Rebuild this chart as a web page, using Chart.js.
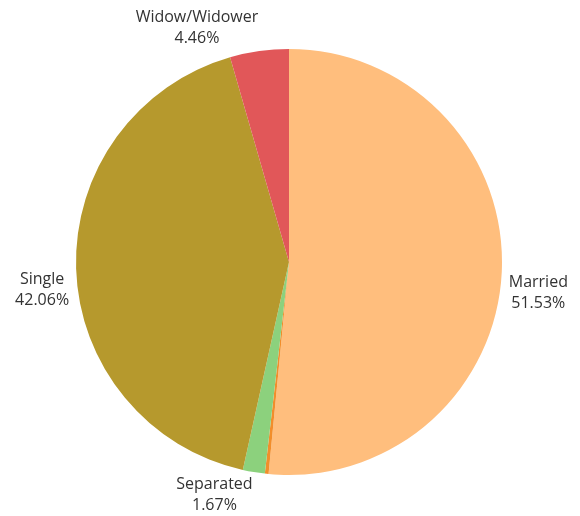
<!DOCTYPE html>
<html>
<head>
<meta charset="utf-8">
<script src="https://cdn.jsdelivr.net/npm/chart.js@4"></script>
<style>
  html, body { margin: 0; padding: 0; background: #fff; }
  #chart { display: block; }
</style>
</head>
<body>
<canvas id="chart" width="580" height="516"></canvas>
<script>
const categories = ["Married", "Divorced", "Separated", "Single", "Widow/Widower"];
const shares = [51.53, 0.28, 1.67, 42.06, 4.46];
const showLabel = [true, false, true, true, true];
const colors = ["#FFBE7D", "#F28E2B", "#8CD17D", "#B6992D", "#E15759"];

const outsideLabels = {
  id: "outsideLabels",
  afterDatasetsDraw(chart) {
    const { ctx } = chart;
    const meta = chart.getDatasetMeta(0);
    ctx.save();
    ctx.font = "16px 'Open Sans'";
    ctx.fillStyle = "#333";
    ctx.textAlign = "center";
    ctx.textBaseline = "middle";
    const lineH = 21;
    meta.data.forEach((arc, i) => {
      if (!showLabel[i]) return;
      const { x, y, startAngle, endAngle, outerRadius } = arc.getProps(
        ["x", "y", "startAngle", "endAngle", "outerRadius"], true);
      const mid = (startAngle + endAngle) / 2;
      const cos = Math.cos(mid);
      const sin = Math.sin(mid);
      const ax = x + cos * (outerRadius + 7);
      const ay = y + sin * (outerRadius + 2);
      const lines = [categories[i], shares[i].toFixed(2) + "%"];
      const w = Math.max(...lines.map((t) => ctx.measureText(t).width));
      const cx = cos >= 0 ? ax + w / 2 : ax - w / 2;
      const top = sin < -0.5 ? ay - lineH * lines.length : ay;
      lines.forEach((t, k) => {
        ctx.fillText(t, cx, top + lineH / 2 + k * lineH);
      });
    });
    ctx.restore();
  },
};

new Chart(document.getElementById("chart"), {
  type: "pie",
  data: {
    labels: categories,
    datasets: [
      {
        data: shares,
        backgroundColor: colors,
        borderWidth: 0,
      },
    ],
  },
  options: {
    responsive: false,
    animation: false,
    layout: {
      padding: { left: 76, right: 78, top: 49, bottom: 41 },
    },
    plugins: {
      legend: { display: false },
      tooltip: { enabled: false },
    },
  },
  plugins: [outsideLabels],
});
</script>
</body>
</html>
